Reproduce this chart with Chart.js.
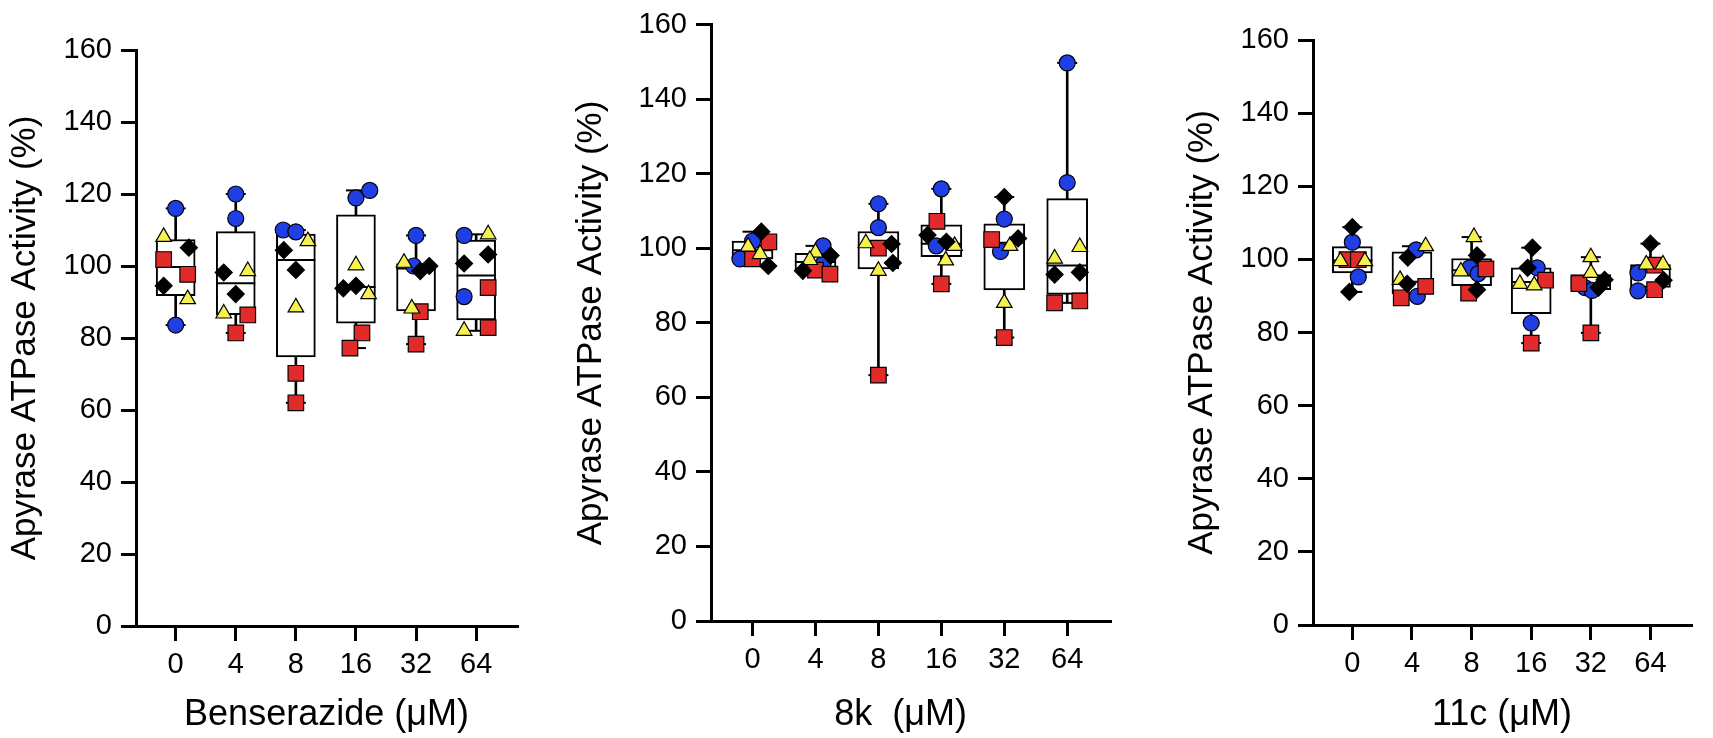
<!DOCTYPE html>
<html>
<head>
<meta charset="utf-8">
<title>Apyrase ATPase Activity</title>
<script src="https://cdn.jsdelivr.net/npm/chart.js@4.4.1/dist/chart.umd.min.js"></script>
<style>
  body { margin: 0; background: #fff; }
  .panel { position: absolute; top: 0; width: 571px; height: 738px; }
</style>
</head>
<body>
<div class="panel" style="left:0px"><canvas id="chartBenserazide" width="571" height="738"></canvas></div>
<div class="panel" style="left:571px"><canvas id="chart8k" width="571" height="738"></canvas></div>
<div class="panel" style="left:1142px"><canvas id="chart11c" width="571" height="738"></canvas></div>
<script>
// Doses (µM) et graduations
const doses = ["0", "4", "8", "16", "32", "64"];
const yTicks = [0, 20, 40, 60, 80, 100, 120, 140, 160];

// Benserazide : 2 réplicats par série et par dose
const benBlue   = [[116.0, 83.6], [120.0, 113.2], [110.0, 109.5], [118.9, 121.0], [108.5, 100.0], [108.5, 91.5]];
const benRed    = [[101.8, 97.7], [86.4, 81.4], [70.2, 62.0], [81.4, 77.2], [87.3, 78.3], [94.0, 82.9]];
const benYellow = [[108.1, 90.8], [98.6, 86.8], [106.9, 88.5], [100.2, 92.2], [100.9, 88.2], [108.8, 82.0]];
const benBlack  = [[105.1, 94.5], [98.2, 92.2], [104.4, 98.9], [93.8, 94.5], [98.6, 100.0], [103.2, 100.7]];

// 8k
const k8Blue   = [[97.2, 102.0], [100.7, 95.8], [112.0, 105.6], [116.0, 100.7], [107.9, 99.2], [149.8, 117.7]];
const k8Red    = [[101.8, 97.2], [94.2, 93.1], [100.1, 66.0], [107.3, 90.5], [102.4, 76.1], [85.4, 85.9]];
const k8Yellow = [[100.5, 98.5], [98.9, 96.9], [101.4, 94.0], [100.7, 96.8], [100.7, 85.4], [97.3, 100.4]];
const k8Black  = [[104.5, 95.3], [98.1, 94.0], [101.2, 96.1], [103.6, 101.8], [113.8, 102.7], [93.0, 93.6]];

// 11c
const c11Blue   = [[104.7, 95.2], [102.6, 89.9], [97.7, 96.1], [97.7, 82.6], [92.3, 91.5], [96.3, 91.4]];
const c11Red    = [[99.9, 99.9], [92.6, 89.5], [97.4, 90.8], [94.3, 77.1], [93.4, 79.9], [98.4, 91.7]];
const c11Yellow = [[99.5, 99.5], [103.6, 94.4], [106.1, 96.7], [93.3, 92.9], [100.6, 96.3], [98.6, 98.6]];
const c11Black  = [[108.8, 91.1], [100.5, 93.3], [101.1, 91.7], [103.2, 97.7], [94.4, 92.3], [104.3, 94.3]];

// Décalage horizontal des points (en fraction de catégorie), comme dans le nuage de points
const benBlueDx   = [[0, 0], [0, 0], [-0.21, 0], [0, 0.23], [0, -0.04], [-0.2, -0.2]];
const benRedDx    = [[-0.2, 0.2], [0.2, 0], [0, 0], [0.1, -0.1], [0.07, 0], [0.2, 0.2]];
const benYellowDx = [[-0.2, 0.2], [0.2, -0.2], [0.2, 0], [0, 0.21], [-0.2, -0.07], [0.2, -0.2]];
const benBlackDx  = [[0.22, -0.2], [-0.2, 0], [-0.2, 0], [-0.21, 0], [0.07, 0.22], [0.2, -0.2]];

const k8BlueDx   = [[-0.2, 0], [0.12, 0.12], [0, 0], [0, -0.08], [0, -0.06], [0, 0]];
const k8RedDx    = [[0.26, 0], [0, 0.23], [0, 0], [-0.07, 0], [-0.2, 0], [-0.2, 0.2]];
const k8YellowDx = [[-0.07, 0.12], [0, -0.09], [-0.2, 0], [0.21, 0.07], [0.09, 0], [-0.2, 0.2]];
const k8BlackDx  = [[0.14, 0.25], [0.24, -0.2], [0.21, 0.23], [-0.22, 0.08], [0, 0.22], [-0.2, 0.2]];

const c11BlueDx   = [[0, 0.1], [0.07, 0.09], [-0.03, 0.11], [0.1, 0], [-0.1, 0.02], [-0.21, -0.21]];
const c11RedDx    = [[-0.09, 0.1], [0.23, -0.18], [0.24, -0.05], [0.24, 0], [-0.2, 0], [0.07, 0.07]];
const c11YellowDx = [[-0.2, 0.21], [0.23, -0.2], [0.04, -0.18], [-0.19, 0.05], [0, 0], [-0.07, 0.21]];
const c11BlackDx  = [[0, -0.05], [-0.07, -0.08], [0.09, 0.09], [0.02, -0.06], [0.23, 0.13], [0, 0.22]];

// Styles des séries
const BLUE = "#1f3fe4", RED = "#e12a2a", YELLOW = "#f7f150", BLACK = "#000000";
const FONT = "'Liberation Sans', Arial, Helvetica, sans-serif";

Chart.defaults.font.family = FONT;
Chart.defaults.color = "#000";

// Cadre de chaque graphique (pixels de la page)
const frames = {
  ben: { left: 0, axisX: 136, right: 517, top: 50, bottom: 626, yTitleX: 25, boxW: 39 },
  k8:  { left: 571, axisX: 711, right: 1110, top: 17, bottom: 621, yTitleX: 591, boxW: 41 },
  c11: { left: 1142, axisX: 1313, right: 1701, top: 40, bottom: 625, yTitleX: 1202, boxW: 40 }
};

// Percentile façon Prism : rang = p(n+1)
function percentile(sorted, p) {
  const n = sorted.length;
  const r = p * (n + 1);
  if (r <= 1) return sorted[0];
  if (r >= n) return sorted[n - 1];
  const lo = Math.floor(r);
  return sorted[lo - 1] + (r - lo) * (sorted[lo] - sorted[lo - 1]);
}

function makeChart(canvasId, frame, title, series) {
  const W = 571, H = 738;

  // Statistiques des boîtes calculées à partir des points
  const stats = doses.map((_, i) => {
    const v = series.flatMap(s => s.values[i]).sort((a, b) => a - b);
    return { min: v[0], q1: percentile(v, 0.25), med: percentile(v, 0.5), q3: percentile(v, 0.75), max: v[v.length - 1] };
  });

  const datasets = [];
  series.forEach(s => {
    datasets.push({
      type: "scatter",
      order: 0,
      data: s.values.flatMap((vals, i) => vals.map((y, j) => ({ x: i + s.dx[i][j], y }))),
      pointStyle: s.style,
      pointRadius: s.radius,
      pointBackgroundColor: s.color,
      pointBorderColor: "#000",
      pointBorderWidth: 1.2
    });
  });
  // Moustaches : petites barres horizontales aux extrêmes
  datasets.push({
    type: "scatter",
    order: 1,
    data: stats.flatMap((st, i) => [{ x: i, y: st.min }, { x: i, y: st.max }]),
    pointStyle: "line",
    pointRadius: 10,
    pointBorderColor: "#000",
    pointBorderWidth: 2
  });
  // Médiane
  datasets.push({
    type: "scatter",
    order: 1,
    data: stats.map((st, i) => ({ x: i, y: st.med })),
    pointStyle: "line",
    pointRadius: frame.boxW / 2,
    pointBorderColor: "#000",
    pointBorderWidth: 2
  });
  // Boîte Q1-Q3
  datasets.push({
    type: "bar",
    order: 2,
    grouped: false,
    barThickness: frame.boxW,
    data: stats.map((st, i) => ({ x: i, y: [st.q1, st.q3] })),
    backgroundColor: "#fff",
    borderColor: "#000",
    borderWidth: 2,
    borderSkipped: false
  });
  // Trait min-max
  datasets.push({
    type: "bar",
    order: 3,
    grouped: false,
    barThickness: 2,
    data: stats.map((st, i) => ({ x: i, y: [st.min, st.max] })),
    backgroundColor: "#000",
    borderWidth: 0
  });

  new Chart(document.getElementById(canvasId), {
    type: "scatter",
    data: { datasets },
    options: {
      responsive: false,
      animation: false,
      events: [],
      layout: { padding: { left: 0, top: frame.top, right: W - (frame.right - frame.left), bottom: 0 } },
      plugins: { legend: { display: false }, tooltip: { enabled: false } },
      scales: {
        x: {
          type: "linear",
          min: -0.66,
          max: 5.68,
          offset: false,
          afterFit: s => { s.height = H - frame.bottom; },
          afterBuildTicks: s => { s.ticks = doses.map((_, i) => ({ value: i })); },
          ticks: {
            autoSkip: false,
            maxRotation: 0,
            padding: 7,
            font: { size: 29 },
            color: "#000",
            callback: v => doses[v]
          },
          grid: { offset: false, drawOnChartArea: false, drawTicks: true, tickLength: 15, lineWidth: 3, color: "#000" },
          border: { display: true, color: "#000", width: 3 },
          title: { display: true, text: title, font: { size: 36 }, color: "#000", padding: { top: 0, bottom: 1.4 } }
        },
        y: {
          min: 0,
          max: 160,
          afterFit: s => { s.width = frame.axisX - frame.left; },
          afterBuildTicks: s => { s.ticks = yTicks.map(v => ({ value: v })); },
          ticks: { padding: 9, font: { size: 29, lineHeight: 1.1 }, color: "#000" },
          grid: { drawOnChartArea: false, drawTicks: true, tickLength: 15, lineWidth: 3, color: "#000" },
          border: { display: true, color: "#000", width: 3 },
          title: {
            display: true,
            text: "Apyrase ATPase Activity (%)",
            font: { size: 35 },
            color: "#000",
            padding: { top: frame.yTitleX - frame.left - 21, bottom: 0 }
          }
        }
      }
    }
  });
}

function seriesOf(blue, blueDx, red, redDx, yellow, yellowDx, black, blackDx) {
  return [
    { values: black,  dx: blackDx,  color: BLACK,  style: "rectRot",  radius: 8.5 },
    { values: yellow, dx: yellowDx, color: YELLOW, style: "triangle", radius: 9 },
    { values: red,    dx: redDx,    color: RED,    style: "rect",     radius: 11 },
    { values: blue,   dx: blueDx,   color: BLUE,   style: "circle",   radius: 8 }
  ];
}

makeChart("chartBenserazide", frames.ben, "Benserazide (\u03bcM)",
  seriesOf(benBlue, benBlueDx, benRed, benRedDx, benYellow, benYellowDx, benBlack, benBlackDx));
makeChart("chart8k", frames.k8, "8k  (\u03bcM)  ",
  seriesOf(k8Blue, k8BlueDx, k8Red, k8RedDx, k8Yellow, k8YellowDx, k8Black, k8BlackDx));
makeChart("chart11c", frames.c11, "11c (\u03bcM)",
  seriesOf(c11Blue, c11BlueDx, c11Red, c11RedDx, c11Yellow, c11YellowDx, c11Black, c11BlackDx));
</script>
</body>
</html>
